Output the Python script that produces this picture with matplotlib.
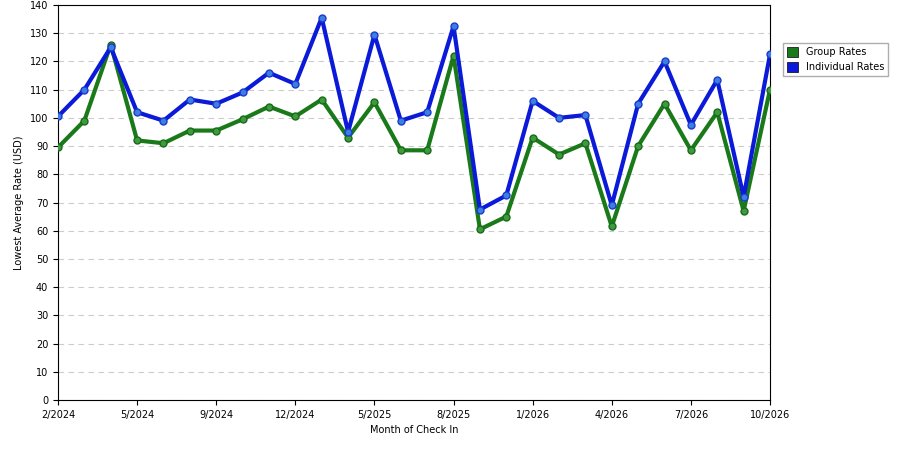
import matplotlib
matplotlib.use("Agg")
import matplotlib.pyplot as plt

months = ["2/2024","3/2024","4/2024","5/2024","6/2024","7/2024","9/2024","10/2024","11/2024",
          "12/2024","1/2025","3/2025","5/2025","6/2025","7/2025","8/2025","9/2025","11/2025",
          "1/2026","2/2026","3/2026","4/2026","5/2026","6/2026","7/2026","8/2026","9/2026","10/2026"]
group = [89.5,99,126,92,91,95.5,95.5,99.5,104,100.5,106.5,93,105.5,88.5,88.5,122,60.5,65,
         93,87,91,61.5,90,105,88.5,102,67,110]
indiv = [100.5,110,125,102,99,106.5,105,109,116,112,135.5,95,129.5,99,102,132.5,67.5,72.5,
         106,100,101,69,105,120,97.5,113.5,72,122.5]

fig = plt.figure(figsize=(9,4.5), dpi=100)
ax = fig.add_axes([58/900, 50/450, 712/900, 395/450])
x = list(range(len(months)))
ax.plot(x, group, color="#1a7a1a", lw=3, marker="o", ms=5, mfc="#3d9a3d", mec="#1a6a1a", label="Group Rates", zorder=3)
ax.plot(x, indiv, color="#0a1ad8", lw=3, marker="o", ms=5, mfc="#3d7fe0", mec="#1a3ad0", label="Individual Rates", zorder=3)
ax.set_xlim(0, len(months)-1)
ax.set_ylim(0, 140)
ax.set_yticks(range(0,141,10))
ticks = x[::3]
ax.set_xticks(ticks)
ax.set_xticklabels([months[i] for i in ticks])
ax.tick_params(labelsize=7)
ax.grid(axis="y", ls=(0,(5,4)), color="#cccccc", lw=0.8)
ax.set_axisbelow(True)
ax.set_xlabel("Month of Check In", fontsize=7)
ax.set_ylabel("Lowest Average Rate (USD)", fontsize=7)
leg = fig.legend(handles=[plt.Rectangle((0,0),1,1,fc="#1a7a1a",ec="black",lw=0.5),
                          plt.Rectangle((0,0),1,1,fc="#0a1ad8",ec="black",lw=0.5)],
                 labels=["Group Rates","Individual Rates"], loc="upper left",
                 bbox_to_anchor=(778/900, 412/450), fontsize=7, fancybox=False,
                 edgecolor="#999999", handlelength=1.2, handleheight=1.2)
fig.savefig("out.png", dpi=100)
